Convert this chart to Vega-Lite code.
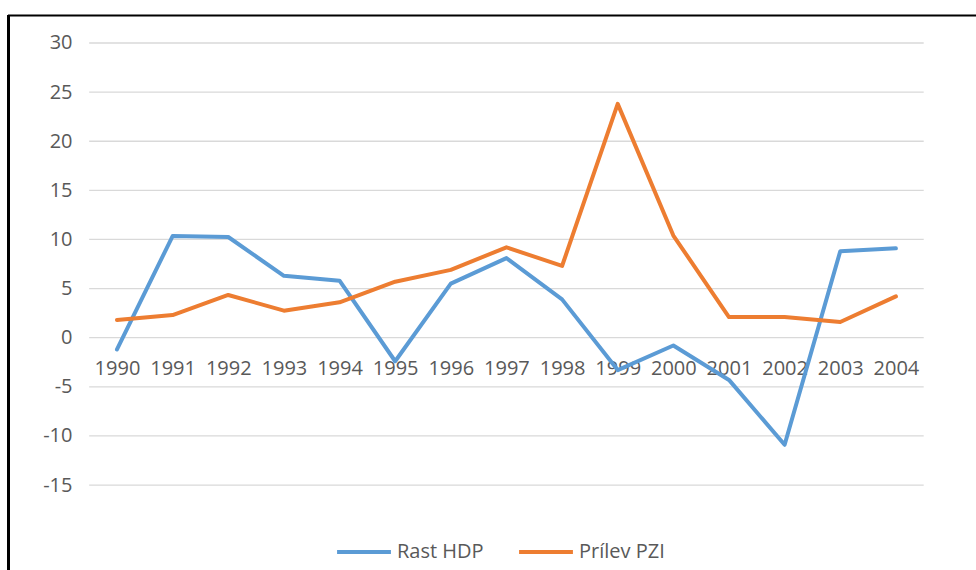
{
  "$schema": "https://vega.github.io/schema/vega-lite/v6.json",
  "autosize": {"type": "none"},
  "padding": {"left": 8, "top": 15, "right": 0, "bottom": 0},
  "width": 968,
  "height": 555,
  "background": "white",
  "config": {
    "view": {"stroke": null},
    "font": "Open Sans",
    "axis": {"labelFont": "Open Sans", "labelColor": "#595959", "labelFontSize": 20, "domain": false, "ticks": false, "grid": false, "title": null},
    "legend": {"labelFont": "Open Sans", "labelColor": "#595959", "labelFontSize": 20}
  },
  "datasets": {
    "grid": [
      {"v": -15}, {"v": -10}, {"v": -5}, {"v": 0}, {"v": 5}, {"v": 10},
      {"v": 15}, {"v": 20}, {"v": 25}, {"v": 30}
    ],
    "frame": [{"part": "frame"}],
    "series": [
      {"year": 1990, "series": "Rast HDP", "value": -1.2},
      {"year": 1991, "series": "Rast HDP", "value": 10.35},
      {"year": 1992, "series": "Rast HDP", "value": 10.25},
      {"year": 1993, "series": "Rast HDP", "value": 6.3},
      {"year": 1994, "series": "Rast HDP", "value": 5.8},
      {"year": 1995, "series": "Rast HDP", "value": -2.4},
      {"year": 1996, "series": "Rast HDP", "value": 5.5},
      {"year": 1997, "series": "Rast HDP", "value": 8.1},
      {"year": 1998, "series": "Rast HDP", "value": 3.9},
      {"year": 1999, "series": "Rast HDP", "value": -3.3},
      {"year": 2000, "series": "Rast HDP", "value": -0.8},
      {"year": 2001, "series": "Rast HDP", "value": -4.3},
      {"year": 2002, "series": "Rast HDP", "value": -10.9},
      {"year": 2003, "series": "Rast HDP", "value": 8.8},
      {"year": 2004, "series": "Rast HDP", "value": 9.1},
      {"year": 1990, "series": "Prílev PZI", "value": 1.8},
      {"year": 1991, "series": "Prílev PZI", "value": 2.3},
      {"year": 1992, "series": "Prílev PZI", "value": 4.35},
      {"year": 1993, "series": "Prílev PZI", "value": 2.75},
      {"year": 1994, "series": "Prílev PZI", "value": 3.6},
      {"year": 1995, "series": "Prílev PZI", "value": 5.7},
      {"year": 1996, "series": "Prílev PZI", "value": 6.9},
      {"year": 1997, "series": "Prílev PZI", "value": 9.2},
      {"year": 1998, "series": "Prílev PZI", "value": 7.3},
      {"year": 1999, "series": "Prílev PZI", "value": 23.8},
      {"year": 2000, "series": "Prílev PZI", "value": 10.4},
      {"year": 2001, "series": "Prílev PZI", "value": 2.1},
      {"year": 2002, "series": "Prílev PZI", "value": 2.1},
      {"year": 2003, "series": "Prílev PZI", "value": 1.6},
      {"year": 2004, "series": "Prílev PZI", "value": 4.2}
    ]
  },
  "layer": [
    {
      "data": {"name": "grid"},
      "mark": {"type": "rule", "stroke": "#D9D9D9", "strokeWidth": 1.3},
      "encoding": {
        "y": {"field": "v", "type": "quantitative", "scale": {"domain": [-23.65, 32.85], "nice": false, "zero": false},
              "axis": {"orient": "left", "offset": -64, "labelPadding": 0, "values": [-15, -10, -5, 0, 5, 10, 15, 20, 25, 30], "labelExpr": "replace(datum.label, '−', '-')"}},
        "x": {"datum": 1989.5, "type": "quantitative", "scale": {"domain": [1988.041, 2005.44], "nice": false, "zero": false},
              "axis": {"orient": "bottom", "offset": -212, "labelPadding": 0, "values": [1990, 1991, 1992, 1993, 1994, 1995, 1996, 1997, 1998, 1999, 2000, 2001, 2002, 2003, 2004], "format": "d", "labelBaseline": "top", "labelFlush": false, "labelOverlap": false}},
        "x2": {"datum": 2004.5}
      }
    },
    {
      "data": {"name": "series"},
      "mark": {"type": "line", "strokeWidth": 4, "strokeCap": "round", "strokeJoin": "round"},
      "encoding": {
        "x": {"field": "year", "type": "quantitative"},
        "y": {"field": "value", "type": "quantitative"},
        "color": {
          "field": "series", "type": "nominal",
          "scale": {"domain": ["Rast HDP", "Prílev PZI"], "range": ["#5B9BD5", "#ED7D31"]},
          "legend": {"orient": "none", "legendX": 327, "legendY": 508, "direction": "horizontal", "title": null,
                     "symbolType": "stroke", "symbolSize": 2900, "symbolStrokeWidth": 4, "labelOffset": 4, "columnPadding": 27}
        }
      }
    },
    {
      "data": {"name": "frame"},
      "mark": {"type": "rule", "stroke": "black", "strokeWidth": 3},
      "encoding": {"x": {"datum": 1988.05}}
    },
    {
      "data": {"name": "frame"},
      "mark": {"type": "rule", "stroke": "black", "strokeWidth": 2},
      "encoding": {"y": {"datum": 32.8}}
    }
  ]
}
